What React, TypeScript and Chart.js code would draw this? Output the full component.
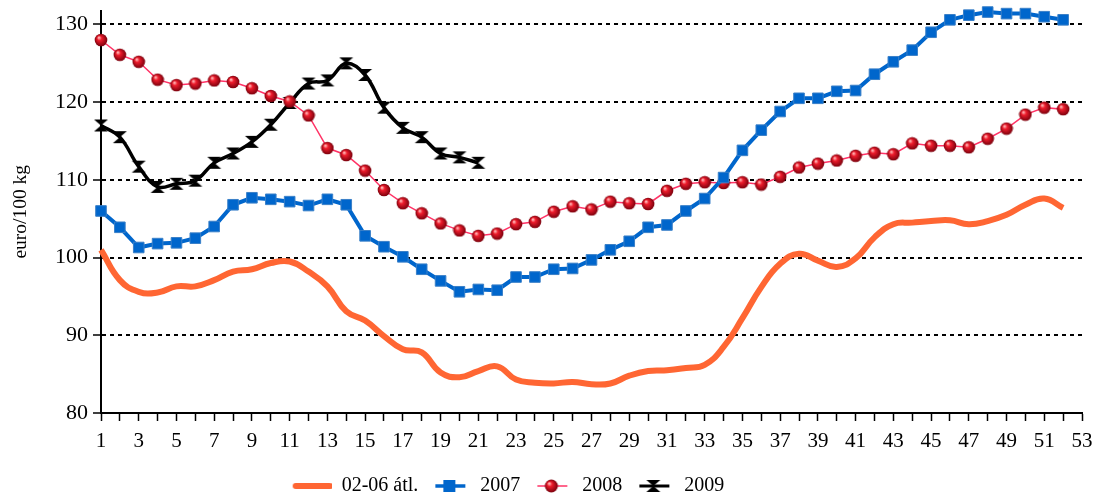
import React, { useEffect, useRef } from "react";
import { Chart, registerables } from "chart.js";
Chart.register(...registerables);

const weeks = [
  "1", "2", "3", "4", "5", "6", "7", "8", "9", "10", "11", "12", "13", "14", "15", "16", "17", "18",
  "19", "20", "21", "22", "23", "24", "25", "26", "27", "28", "29", "30", "31", "32", "33", "34", "35",
  "36", "37", "38", "39", "40", "41", "42", "43", "44", "45", "46", "47", "48", "49", "50", "51", "52", "53",
];

const avg0206 = [
  101.0, 97.1, 95.6, 95.5, 96.3, 96.3, 97.1, 98.2, 98.5, 99.3, 99.5, 98.2, 96.3, 93.1, 91.9, 89.9, 88.2,
  87.8, 85.2, 84.6, 85.4, 86.0, 84.3, 83.9, 83.8, 84.0, 83.7, 83.8, 84.8, 85.4, 85.5, 85.8, 86.2, 88.5,
  92.2, 96.2, 99.2, 100.5, 99.6, 98.8, 99.9, 102.6, 104.3, 104.5, 104.7, 104.8, 104.3, 104.7, 105.5,
  106.8, 107.6, 106.4,
];

const y2007 = [
  106.0, 103.9, 101.3, 101.8, 101.9, 102.5, 104.0, 106.8, 107.7, 107.5, 107.2, 106.7, 107.5, 106.8, 102.8,
  101.4, 100.1, 98.5, 97.0, 95.6, 95.9, 95.8, 97.5, 97.5, 98.5, 98.6, 99.7, 101.0, 102.1, 103.9, 104.2,
  106.0, 107.6, 110.3, 113.8, 116.4, 118.8, 120.5, 120.5, 121.4, 121.5, 123.6, 125.2, 126.7, 129.0,
  130.6, 131.2, 131.6, 131.4, 131.4, 131.0, 130.6,
];

const y2008 = [
  128.0, 126.1, 125.2, 122.9, 122.2, 122.4, 122.8, 122.6, 121.8, 120.8, 120.1, 118.3, 114.1, 113.2, 111.2,
  108.7, 107.0, 105.7, 104.4, 103.5, 102.8, 103.1, 104.3, 104.6, 105.9, 106.6, 106.2, 107.2, 107.0, 106.9,
  108.6, 109.5, 109.7, 109.6, 109.7, 109.4, 110.4, 111.6, 112.1, 112.5, 113.1, 113.5, 113.3, 114.7, 114.4,
  114.4, 114.2, 115.3, 116.6, 118.4, 119.3, 119.1,
];

const y2009 = [
  117.0, 115.5, 111.7, 109.1, 109.5, 109.9, 112.2, 113.4, 114.9, 117.1, 119.9, 122.4, 122.8, 125.0, 123.5,
  119.3, 116.7, 115.5, 113.4, 112.9, 112.2,
];

const yTickValues = [80, 90, 100, 110, 120, 130];
const seriesNames = ["02-06 átl.", "2007", "2008", "2009"];
const yAxisTitle = "euro/100 kg";

const FONT = "'Liberation Serif', 'Times New Roman', serif";
const ORANGE = "#FF6633";
const BLUE = "#0066CC";
const PINK = "#FF3366";

function mk(w: number, h: number, draw: (g: CanvasRenderingContext2D) => void) {
  const c = document.createElement("canvas");
  c.width = w;
  c.height = h;
  const g = c.getContext("2d")!;
  draw(g);
  return c;
}

function drawSphere(g: CanvasRenderingContext2D, cx: number, cy: number, r: number) {
  const grad = g.createRadialGradient(cx - r * 0.35, cy - r * 0.4, r * 0.1, cx, cy, r);
  grad.addColorStop(0, "#ffb0b0");
  grad.addColorStop(0.3, "#ee1c2c");
  grad.addColorStop(1, "#7a000c");
  g.fillStyle = grad;
  g.beginPath();
  g.arc(cx, cy, r, 0, Math.PI * 2);
  g.fill();
}

function drawHourglass(g: CanvasRenderingContext2D, cx: number, cy: number) {
  g.fillStyle = "#000";
  g.beginPath();
  g.moveTo(cx - 7, cy - 6);
  g.lineTo(cx + 7, cy - 6);
  g.lineTo(cx, cy);
  g.closePath();
  g.fill();
  g.beginPath();
  g.moveTo(cx - 7, cy + 6);
  g.lineTo(cx + 7, cy + 6);
  g.lineTo(cx, cy);
  g.closePath();
  g.fill();
}

export default function App() {
  const ref = useRef<HTMLCanvasElement | null>(null);

  useEffect(() => {
    document.body.style.margin = "0";
    const canvas = ref.current;
    if (!canvas) return;

    const sphere = mk(14, 14, (g) => drawSphere(g, 7, 7, 6.3));
    const hourglass = mk(16, 14, (g) => drawHourglass(g, 8, 7));

    const SW = 42;
    const SH = 20;
    const swatches = [
      mk(SW, SH, (g) => {
        g.strokeStyle = ORANGE;
        g.lineWidth = 6;
        g.lineCap = "round";
        g.beginPath();
        g.moveTo(6, SH / 2);
        g.lineTo(SW - 2, SH / 2);
        g.stroke();
      }),
      mk(SW, SH, (g) => {
        g.strokeStyle = BLUE;
        g.lineWidth = 3.5;
        g.beginPath();
        g.moveTo(7, SH / 2);
        g.lineTo(SW - 5, SH / 2);
        g.stroke();
        g.fillStyle = BLUE;
        g.fillRect(SW / 2 - 6, SH / 2 - 6, 12, 12);
      }),
      mk(SW, SH, (g) => {
        g.strokeStyle = PINK;
        g.lineWidth = 1.5;
        g.beginPath();
        g.moveTo(7, SH / 2);
        g.lineTo(SW - 5, SH / 2);
        g.stroke();
        drawSphere(g, SW / 2, SH / 2, 6.5);
      }),
      mk(SW, SH, (g) => {
        g.strokeStyle = "#000";
        g.lineWidth = 3;
        g.beginPath();
        g.moveTo(7, SH / 2);
        g.lineTo(SW - 5, SH / 2);
        g.stroke();
        drawHourglass(g, SW / 2, SH / 2);
      }),
    ];

    const legendShift = {
      id: "legendShift",
      afterLayout(chart: any) {
        const l = chart.legend;
        if (!l) return;
        const dx = 507 - (l.left + l.right) / 2;
        l.left += dx;
        l.right += dx;
        l.top += 9;
        l.bottom += 9;
      },
    };

    const chart = new Chart(canvas, {
      type: "line",
      data: {
        labels: weeks,
        datasets: [
          {
            label: seriesNames[0],
            data: avg0206,
            borderColor: ORANGE,
            backgroundColor: ORANGE,
            borderWidth: 6,
            pointRadius: 0,
            tension: 0.45,
            fill: false,
            clip: false as any,
          },
          {
            label: seriesNames[1],
            data: y2007,
            borderColor: BLUE,
            backgroundColor: BLUE,
            borderWidth: 4,
            pointStyle: "rect",
            pointRadius: 7.5,
            pointBorderColor: "#3a80c8",
            pointBorderWidth: 1,
            tension: 0,
            fill: false,
            clip: false as any,
          },
          {
            label: seriesNames[2],
            data: y2008,
            borderColor: PINK,
            backgroundColor: PINK,
            borderWidth: 1.5,
            pointStyle: sphere as any,
            pointRadius: 6,
            tension: 0,
            fill: false,
            clip: false as any,
          },
          {
            label: seriesNames[3],
            data: y2009,
            borderColor: "#000",
            backgroundColor: "#000",
            borderWidth: 3.5,
            pointStyle: hourglass as any,
            pointRadius: 7,
            tension: 0.4,
            fill: false,
            clip: false as any,
          },
        ],
      },
      options: {
        responsive: false,
        animation: false,
        events: [],
        layout: { padding: { top: 5, right: 23, bottom: 0, left: 0 } },
        scales: {
          x: {
            type: "category",
            offset: false,
            afterFit: (scale: any) => {
              const lh = scale.chart.legend ? scale.chart.legend.height : 31;
              scale.height = 497 - lh - 413;
              scale.paddingLeft = 0;
              scale.paddingRight = 0;
            },
            grid: {
              display: true,
              drawOnChartArea: false,
              drawTicks: true,
              tickLength: 8,
              tickColor: "#000",
              tickWidth: 1.5,
              offset: false,
            },
            border: { display: true, color: "#000", width: 2 },
            ticks: {
              autoSkip: false,
              maxRotation: 0,
              minRotation: 0,
              padding: 8,
              color: "#000",
              font: { family: FONT, size: 21 },
              callback: (_v: any, i: number) => (i % 2 === 0 ? weeks[i] : ""),
            },
          },
          y: {
            min: 80,
            max: 131.8,
            afterBuildTicks: (scale: any) => {
              scale.ticks = yTickValues.map((v) => ({ value: v }));
            },
            afterFit: (scale: any) => {
              scale.width = 101;
              scale.paddingTop = 0;
              scale.paddingBottom = 0;
            },
            ticks: {
              padding: 5,
              color: "#000",
              font: { family: FONT, size: 22 },
            },
            grid: {
              display: true,
              drawTicks: true,
              tickLength: 8,
              lineWidth: 2,
              color: (ctx: any) => (ctx.tick && ctx.tick.value === 80 ? "rgba(0,0,0,0)" : "#000"),
              tickColor: "#000",
              tickWidth: 1.5,
            },
            border: { display: true, color: "#000", width: 2, dash: [4, 4] },
            title: {
              display: true,
              text: yAxisTitle,
              color: "#000",
              font: { family: FONT, size: 19.5 },
              padding: { top: 9, bottom: 0 },
            },
          },
        },
        plugins: {
          tooltip: { enabled: false },
          legend: {
            display: true,
            position: "bottom",
            labels: {
              usePointStyle: true,
              pointStyleWidth: 42,
              padding: 10,
              color: "#000",
              font: { family: FONT, size: 20 },
              generateLabels: (ch: any) =>
                ch.data.datasets.map((ds: any, i: number) => ({
                  text: ds.label,
                  pointStyle: swatches[i],
                  datasetIndex: i,
                  fontColor: "#000",
                  fillStyle: "rgba(0,0,0,0)",
                  strokeStyle: "rgba(0,0,0,0)",
                  lineWidth: 0,
                  hidden: false,
                })),
            },
          },
        },
      } as any,
      plugins: [legendShift],
    });

    return () => chart.destroy();
  }, []);

  return (
    <div style={{ width: 1105, height: 497 }}>
      <canvas ref={ref} width={1105} height={497} style={{ display: "block" }} />
    </div>
  );
}
